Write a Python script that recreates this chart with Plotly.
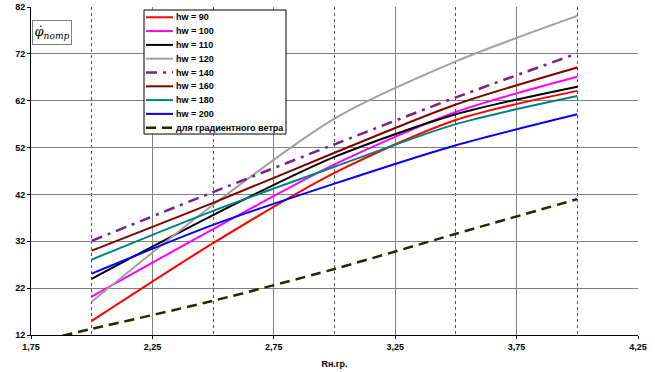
import plotly.graph_objects as go

x_vals = [2.0, 2.5, 3.0, 3.5, 4.0]
hw_90 = [15.0, 31.6, 46.6, 57.9, 64.1]
hw_100 = [20.2, 34.6, 48.4, 59.6, 67.1]
hw_110 = [24.0, 37.6, 50.0, 59.1, 65.0]
hw_120 = [19.1, 39.8, 58.2, 70.4, 80.1]
hw_140 = [32.1, 42.5, 52.7, 62.7, 72.1]
hw_160 = [30.0, 40.2, 50.9, 61.2, 69.1]
hw_180 = [28.1, 38.5, 47.9, 57.0, 63.0]
hw_200 = [25.1, 35.5, 44.3, 52.5, 59.1]
grad_x = [1.75, 2.0, 2.5, 3.0, 3.5, 4.0]
grad_wind = [10.3, 13.3, 19.3, 26.1, 33.6, 41.0]

x_ticks = [1.75, 2.25, 2.75, 3.25, 3.75, 4.25]
x_ticktext = ["1,75", "2,25", "2,75", "3,25", "3,75", "4,25"]
x_minor = [2.0, 2.5, 3.0, 3.5, 4.0]
y_ticks = [12, 22, 32, 42, 52, 62, 72, 82]

series = [
    ("hw = 90", x_vals, hw_90, "#FF0000", "solid"),
    ("hw = 100", x_vals, hw_100, "#FF00FF", "solid"),
    ("hw = 110", x_vals, hw_110, "#000000", "solid"),
    ("hw = 120", x_vals, hw_120, "#A0A0A0", "solid"),
    ("hw = 140", x_vals, hw_140, "#7B1F86", "11px,6px,3px,6px"),
    ("hw = 160", x_vals, hw_160, "#800000", "solid"),
    ("hw = 180", x_vals, hw_180, "#008080", "solid"),
    ("hw = 200", x_vals, hw_200, "#0000FF", "solid"),
    ("для градиентного ветра", grad_x, grad_wind, "#262600", "10px,6px"),
]

W, H = 655, 372
ML, MR, MT, MB = 31, 17, 7, 37
PW, PH = W - ML - MR, H - MT - MB


def px(xp):
    return (xp - ML) / PW


def py(yp):
    return (H - MB - yp) / PH


fig = go.Figure()
for name, xs, ys, color, dash in series:
    fig.add_trace(go.Scatter(
        x=xs, y=ys, name=name, mode="lines", showlegend=False,
        line=dict(color=color, width=2.5 if dash != "solid" else 2, dash=dash,
                  shape="spline", smoothing=0.8),
    ))

# legend drawn as a compact box (Plotly's native legend rows are taller)
shapes = [dict(type="rect", xref="paper", yref="paper",
               x0=px(144), x1=px(286), y0=py(134), y1=py(10),
               line=dict(color="#000000", width=1), fillcolor="white", layer="above")]
annotations = []
for i, (name, xs, ys, color, dash) in enumerate(series):
    yc = 17.3 + i * 13.8
    shapes.append(dict(type="line", xref="paper", yref="paper",
                       x0=px(146), x1=px(173), y0=py(yc), y1=py(yc),
                       line=dict(color=color, width=2.5 if dash != "solid" else 2,
                                 dash=dash), layer="above"))
    annotations.append(dict(xref="paper", yref="paper", x=px(174), y=py(yc),
                            xanchor="left", yanchor="middle", text="<b>%s</b>" % name,
                            showarrow=False,
                            font=dict(family="Liberation Sans, Arial", size=9, color="#000000")))

annotations.append(dict(
    xref="paper", yref="paper", x=px(32), y=py(20), xanchor="left", yanchor="top",
    text="<i>φ\u0307</i><sub><i>потр</i></sub>", width=36, height=21, align="center",
    showarrow=False, bordercolor="#808080", borderwidth=1, borderpad=1, bgcolor="white",
    font=dict(family="DejaVu Serif, Liberation Serif", size=13, color="#000000"),
))

fig.update_layout(
    width=W, height=H,
    margin=dict(l=ML, r=MR, t=MT, b=MB, autoexpand=False),
    paper_bgcolor="white", plot_bgcolor="white",
    font=dict(family="Liberation Sans, Arial", size=9, color="#000000"),
    showlegend=False,
    xaxis=dict(
        range=[1.75, 4.25], tickvals=x_ticks, ticktext=x_ticktext,
        showgrid=True, gridcolor="#7F7F7F", gridwidth=1,
        minor=dict(tickvals=x_minor, showgrid=True, gridcolor="#505050",
                   griddash="dot", gridwidth=1),
        showline=True, linecolor="#000000", linewidth=1,
        ticks="outside", ticklen=3, tickcolor="#000000",
        tickfont=dict(size=9, weight="bold"),
        zeroline=False, automargin=False,
        title=dict(text="Rн.гр.", font=dict(size=9, weight="bold"), standoff=9),
    ),
    yaxis=dict(
        range=[12, 82], tickvals=y_ticks,
        showgrid=True, gridcolor="#7F7F7F", gridwidth=1,
        showline=True, linecolor="#000000", linewidth=1,
        ticks="outside", ticklen=3, tickcolor="#000000",
        tickfont=dict(size=9, weight="bold"),
        zeroline=False, automargin=False,
    ),
    shapes=shapes,
    annotations=annotations,
)

fig.write_html("out.html", config={"displayModeBar": False},
               post_script="document.body.style.margin='0px';")
